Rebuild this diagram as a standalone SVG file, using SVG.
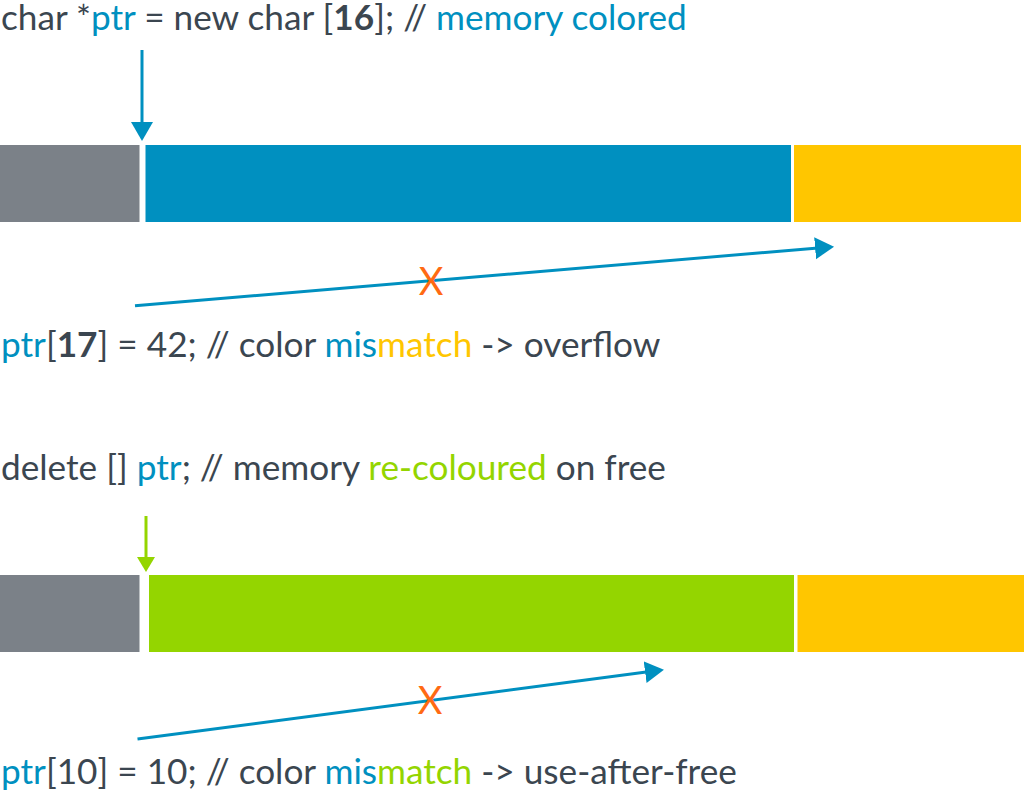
<svg xmlns="http://www.w3.org/2000/svg" width="1024" height="795" viewBox="0 0 1024 795">
<style>
.t{font-family:Lato,"Liberation Sans",sans-serif;font-size:35.2px;fill:#3b4650}
.b{fill:#0090c0}.y{fill:#ffc600}.g{fill:#94d500}.k{font-weight:bold}
.x{font-family:Lato,"Liberation Sans",sans-serif;font-size:38px;fill:#ff6a13;text-anchor:middle}
.ln{fill:none;stroke-width:3}
</style>
<defs>
<marker id="ab" markerUnits="userSpaceOnUse" markerWidth="20" markerHeight="24" refX="3" refY="11" orient="auto" viewBox="0 0 20 22">
<path d="M0,0 L19,11 L0,22 z" fill="#0090c0"/>
</marker>
<marker id="ag" markerUnits="userSpaceOnUse" markerWidth="16" markerHeight="18" refX="3" refY="9" orient="auto" viewBox="0 0 16 18">
<path d="M0,0 L15,9 L0,18 z" fill="#94d500"/>
</marker>
</defs>
<rect width="1024" height="795" fill="#fff"/>
<g id="alloc-label"><text class="t" x="1" y="30">char *<tspan class="b">ptr</tspan> = new char [<tspan class="k">16</tspan>]; // <tspan class="b">memory colored</tspan></text></g>
<g id="row1">
<rect x="0" y="145" width="139.5" height="77" fill="#7b8188"/>
<rect x="145.5" y="145" width="645.5" height="77" fill="#0090c0"/>
<rect x="794" y="145" width="227" height="77" fill="#ffc600"/>
</g>
<g id="overflow-label"><text class="t" x="1" y="357"><tspan class="b">ptr</tspan>[<tspan class="k">17</tspan>] = 42; // color <tspan class="b">mis</tspan><tspan class="y">match</tspan> -&gt; overflow</text></g>
<g id="free-label"><text class="t" x="1" y="480">delete [] <tspan class="b">ptr</tspan>; // memory <tspan class="g">re-coloured</tspan> on free</text></g>
<g id="row2">
<rect x="0" y="575" width="139.5" height="77" fill="#7b8188"/>
<rect x="149" y="575" width="645" height="77" fill="#94d500"/>
<rect x="797.5" y="575" width="226.5" height="77" fill="#ffc600"/>
</g>
<g id="uaf-label"><text class="t" x="1" y="784"><tspan class="b">ptr</tspan>[10] = 10; // color <tspan class="b">mis</tspan><tspan class="g">match</tspan> -&gt; use-after-free</text></g>
<g id="connectors">
<line class="ln" x1="142" y1="50" x2="142" y2="125" stroke="#0090c0" marker-end="url(#ab)"/>
<line class="ln" x1="135" y1="305.7" x2="818.1" y2="248" stroke="#0090c0" marker-end="url(#ab)"/>
<line class="ln" x1="146" y1="516" x2="146" y2="560" stroke="#94d500" marker-end="url(#ag)"/>
<line class="ln" x1="137.5" y1="739" x2="648.1" y2="671.8" stroke="#0090c0" marker-end="url(#ab)"/>
</g>
<g id="marks">
<text class="x" x="431" y="295">X</text>
<text class="x" x="430" y="714">X</text>
</g>
</svg>
